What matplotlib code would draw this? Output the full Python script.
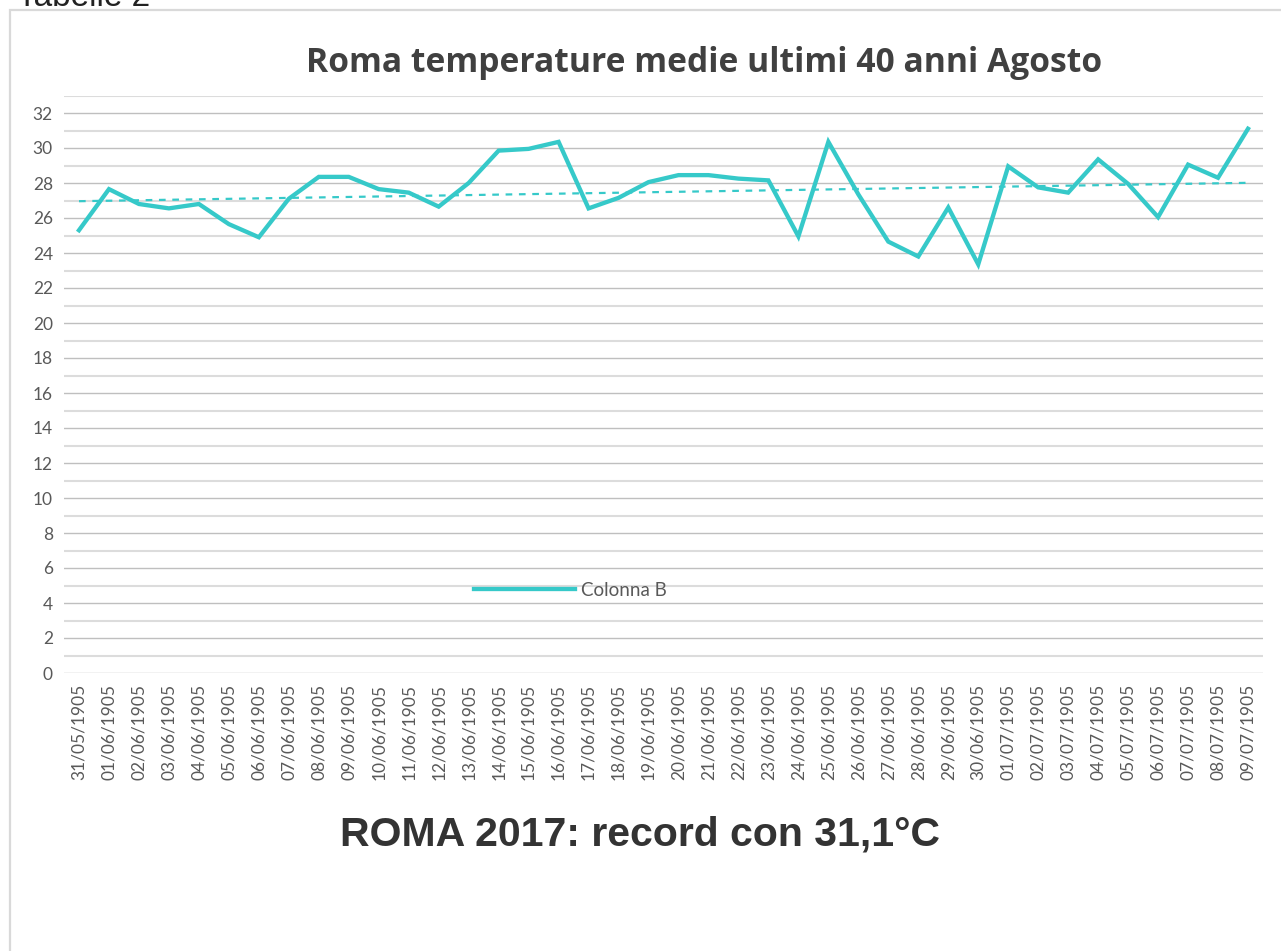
import matplotlib
matplotlib.use("Agg")
import matplotlib.pyplot as plt
from matplotlib.patches import Rectangle
import numpy as np

# daily dates (as shown on the axis) and mean temperatures
dates = ["31/05/1905", "01/06/1905", "02/06/1905", "03/06/1905", "04/06/1905",
         "05/06/1905", "06/06/1905", "07/06/1905", "08/06/1905", "09/06/1905",
         "10/06/1905", "11/06/1905", "12/06/1905", "13/06/1905", "14/06/1905",
         "15/06/1905", "16/06/1905", "17/06/1905", "18/06/1905", "19/06/1905",
         "20/06/1905", "21/06/1905", "22/06/1905", "23/06/1905", "24/06/1905",
         "25/06/1905", "26/06/1905", "27/06/1905", "28/06/1905", "29/06/1905",
         "30/06/1905", "01/07/1905", "02/07/1905", "03/07/1905", "04/07/1905",
         "05/07/1905", "06/07/1905", "07/07/1905", "08/07/1905", "09/07/1905"]
temps = [25.3, 27.65, 26.8, 26.55, 26.8, 25.65, 24.9, 27.1, 28.35, 28.35,
         27.65, 27.45, 26.65, 28.0, 29.85, 29.95, 30.35, 26.55, 27.15, 28.05,
         28.45, 28.45, 28.25, 28.15, 24.95, 30.35, 27.35, 24.65, 23.8, 26.6,
         23.35, 28.95, 27.75, 27.45, 29.35, 27.95, 26.05, 29.05, 28.3, 31.1]
yticks = list(range(0, 33, 2))

W, H = 1281, 951
teal = "#36C9C9"
plt.rcParams['font.family'] = ['Lato', 'DejaVu Sans']

fig = plt.figure(figsize=(W / 100, H / 100), dpi=100)

# chart area border (runs off the right and bottom edges)
fig.patches.append(Rectangle((10 / W, -0.1), 1.2, 1 - 10 / H + 0.1,
                             transform=fig.transFigure, fill=False,
                             edgecolor="#d9d9d9", linewidth=1.6))
# sheet label, cut off at the top as in the screenshot
fig.text(17 / W, 1 - 6 / H, "Tabelle 2", fontsize=24, color="#222222",
         family="Liberation Sans", va="baseline", ha="left")

ax = fig.add_axes([64 / W, 1 - 673 / H, 1199 / W, (673 - 95.5) / H])
x = np.arange(len(dates))

for v in range(0, 34):
    if v % 2 == 0:
        ax.axhline(v, color="#bfbfbf", linewidth=1.0, zorder=0)
    else:
        ax.axhline(v, color="#dcdcdc", linewidth=1.5, zorder=0)

ax.plot(x, temps, color=teal, linewidth=3.1, label="Colonna B",
        solid_joinstyle="miter", zorder=3)

# linear trendline
k, b = np.polyfit(x, temps, 1)
ax.plot(x, k * x + b, color=teal, linewidth=1.6, linestyle=(0, (3, 3)), zorder=2)

ax.set_xlim(-0.5, len(dates) - 0.5)
ax.set_ylim(0, 33)
ax.set_yticks(yticks)
ax.set_xticks(x)
ax.set_xticklabels(dates, rotation=90)
ax.tick_params(axis="both", length=0, labelsize=12.5, labelcolor="#595959")
ax.tick_params(axis="x", pad=8)
ax.tick_params(axis="y", pad=8)
for s in ax.spines.values():
    s.set_visible(False)

leg = ax.legend(loc="center left", bbox_to_anchor=(474 / W, 1 - 590 / H),
                bbox_transform=fig.transFigure, frameon=False, borderpad=0,
                borderaxespad=0, handlelength=5.4, handletextpad=0.32,
                fontsize=13.5)
for t in leg.get_texts():
    t.set_color("#595959")

fig.text(704 / W, 1 - 63 / H, "Roma temperature medie ultimi 40 anni Agosto",
         fontsize=24.2, fontweight="bold", color="#404040", ha="center",
         va="center", family="Open Sans")
fig.text(640 / W, 1 - 835 / H, "ROMA 2017: record con 31,1°C",
         fontsize=29.5, fontweight="bold", color="#333333", ha="center",
         va="center", family="Liberation Sans")

fig.savefig("out.png", dpi=100)
